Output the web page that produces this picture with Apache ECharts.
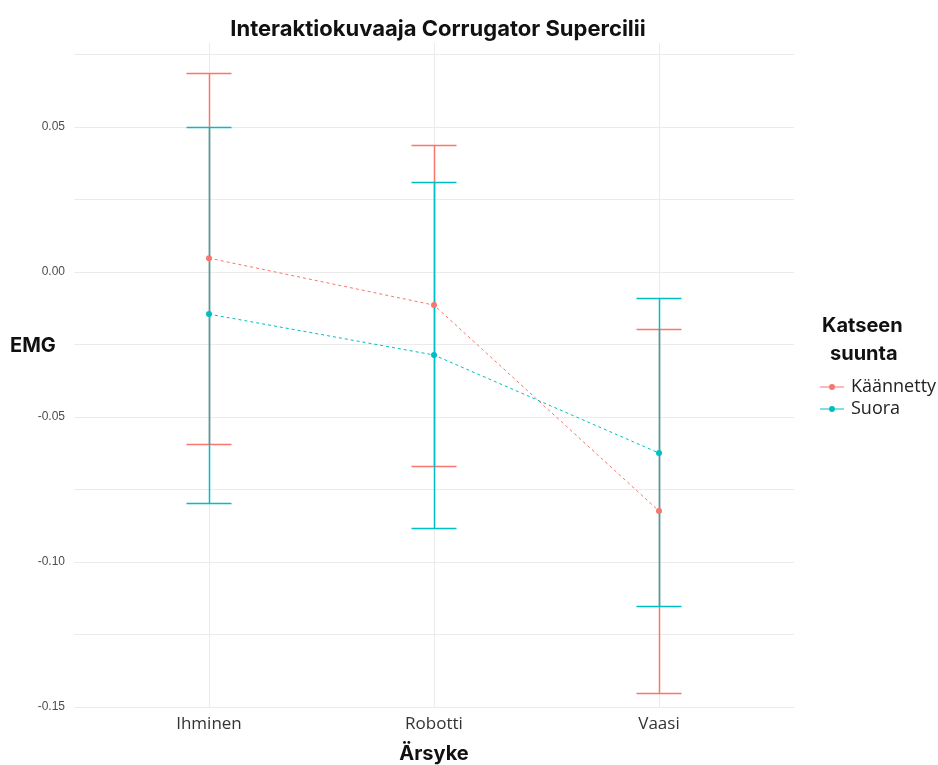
<!DOCTYPE html>
<html>
<head>
<meta charset="utf-8">
<script src="https://cdn.jsdelivr.net/npm/echarts@6/dist/echarts.min.js"></script>
<style>
  html, body { margin: 0; padding: 0; background: #ffffff; }
  #chart { width: 938px; height: 765px; }
</style>
</head>
<body>
<div id="chart"></div>
<script>
// Stimulus categories (x positions 1..3)
const categories = ['Ihminen', 'Robotti', 'Vaasi'];
const categoryPos = [1, 2, 3];
const groups = ['Käännetty', 'Suora'];

// Mean EMG and confidence limits per gaze direction
const meanKaannetty = [0.0048, -0.0114, -0.0824];
const lowKaannetty  = [-0.0593, -0.0669, -0.1452];
const highKaannetty = [0.0686, 0.0438, -0.0197];

const meanSuora = [-0.0145, -0.0286, -0.0624];
const lowSuora  = [-0.0797, -0.0883, -0.1155];
const highSuora = [0.0500, 0.0310, -0.0090];

const yTicks = [-0.15, -0.10, -0.05, 0.00, 0.05];

const colKaannetty = '#F8766D';
const colSuora = '#00BFC4';

// legend key: short line with a dot in the middle
const keyIcon = 'path://M0,4.45 L24,4.45 L24,5.55 L0,5.55 Z M15,5 A3,3 0 1,1 9,5 A3,3 0 1,1 15,5 Z';

const chart = echarts.init(document.getElementById('chart'));

// snap to pixel centres so overlapping bars stay crisp
const snap = v => Math.floor(v + 1e-6) + 0.5;

function errorBarSeries(name, lows, highs, color) {
  return {
    name: name,
    type: 'custom',
    z: 2,
    itemStyle: { color: color },
    data: categoryPos.map((p, i) => [p, lows[i], highs[i]]),
    renderItem: function (params, api) {
      const x = api.value(0);
      const lo = api.coord([x, api.value(1)]);
      const hi = api.coord([x, api.value(2)]);
      const left = api.coord([x - 0.1, api.value(1)])[0];
      const right = api.coord([x + 0.1, api.value(1)])[0];
      const cx = snap(lo[0]);
      const yLo = snap(lo[1]);
      const yHi = snap(hi[1]);
      // whisker + two caps as one path
      return {
        type: 'path',
        shape: {
          pathData: 'M' + cx + ',' + yLo + ' L' + cx + ',' + yHi +
                    ' M' + left + ',' + yLo + ' L' + right + ',' + yLo +
                    ' M' + left + ',' + yHi + ' L' + right + ',' + yHi
        },
        style: { stroke: color, lineWidth: 1.5, fill: 'none' }
      };
    },
    silent: true
  };
}

function meanSeries(name, means, color) {
  return {
    name: name,
    type: 'line',
    z: 3,
    data: categoryPos.map((p, i) => [p, means[i]]),
    symbol: 'circle',
    symbolSize: 6,
    itemStyle: { color: color },
    lineStyle: { color: color, width: 1, type: [3, 3] },
    silent: true
  };
}

const option = {
  backgroundColor: '#ffffff',
  animation: false,
  title: {
    text: 'Interaktiokuvaaja Corrugator Supercilii',
    left: 433,
    textAlign: 'center',
    top: 13,
    textStyle: { fontFamily: 'Inter', fontWeight: 'bold', fontSize: 22, color: '#111111' }
  },
  grid: { left: 74, right: 144, top: 43, bottom: 58, containLabel: false, outerBoundsMode: 'none' },
  xAxis: {
    type: 'value',
    min: 0.4,
    max: 3.6,
    name: 'Ärsyke',
    nameLocation: 'middle',
    nameGap: 37,
    nameTextStyle: { fontFamily: 'Inter', fontWeight: 'bold', fontSize: 20, color: '#111111' },
    axisLine: { show: false },
    axisTick: { show: false, customValues: categoryPos },
    axisLabel: {
      margin: 9,
      fontFamily: 'Open Sans',
      fontSize: 17,
      color: '#333333',
      customValues: categoryPos,
      formatter: function (v) {
        const i = Math.round(v);
        return i >= 1 && i <= 3 ? categories[i - 1] : '';
      }
    },
    splitLine: { show: true, showMinLine: true, showMaxLine: true, lineStyle: { color: '#ebebeb', width: 1 } }
  },
  yAxis: {
    type: 'value',
    min: -0.15,
    max: 0.079,
    interval: 0.025,
    axisLine: { show: false },
    axisTick: { show: false },
    axisLabel: {
      margin: 9,
      fontFamily: 'Liberation Sans',
      fontSize: 12,
      color: '#4d4d4d',
      showMaxLabel: false,
      formatter: function (v) {
        const hit = yTicks.find(t => Math.abs(t - v) < 1e-6);
        return hit === undefined ? '' : hit.toFixed(2);
      }
    },
    splitLine: { show: true, showMaxLine: false, lineStyle: { color: '#ebebeb', width: 1 } }
  },
  legend: {
    show: true,
    orient: 'vertical',
    left: 815,
    top: 373,
    itemWidth: 24,
    itemHeight: 10,
    itemGap: 4,
    data: groups.map((g, i) => ({
      name: g,
      icon: keyIcon,
      itemStyle: { color: i === 0 ? colKaannetty : colSuora }
    })),
    textStyle: { fontFamily: 'Open Sans', fontSize: 18, color: '#222222', padding: [0, 0, 0, 2] }
  },
  graphic: [
    { type: 'text', left: 10, top: 336, style: { text: 'EMG', font: 'bold 20px Inter', fill: '#111111' } },
    { type: 'text', left: 822, top: 316, style: { text: 'Katseen', font: 'bold 20px Inter', fill: '#111111' } },
    { type: 'text', left: 830, top: 344, style: { text: 'suunta', font: 'bold 20px Inter', fill: '#111111' } }
  ],
  series: [
    errorBarSeries('Käännetty', lowKaannetty, highKaannetty, colKaannetty),
    errorBarSeries('Suora', lowSuora, highSuora, colSuora),
    meanSeries('Käännetty', meanKaannetty, colKaannetty),
    meanSeries('Suora', meanSuora, colSuora)
  ]
};

chart.setOption(option);
</script>
</body>
</html>
